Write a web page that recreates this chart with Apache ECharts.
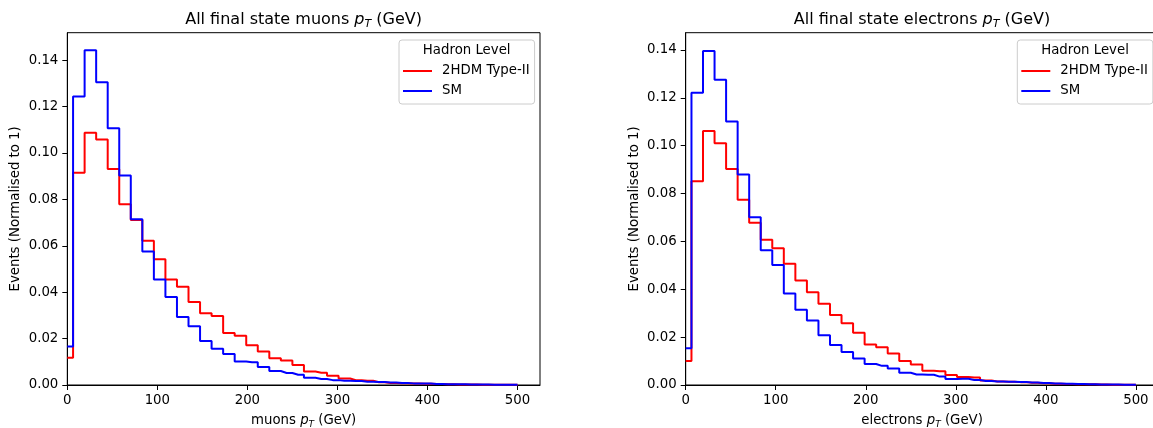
<!DOCTYPE html>
<html><head><meta charset="utf-8">
<script src="https://cdn.jsdelivr.net/npm/echarts@6/dist/echarts.min.js"></script>
<style>html,body{margin:0;padding:0;background:#fff}#c{width:1153px;height:428px}</style>
</head><body><div id="c"></div>
<script>
// Bin centres (GeV) – histogram drawn as mid-steps
const binCenters = [0, 12.82, 25.64, 38.46, 51.28, 64.10, 76.92, 89.74, 102.56, 115.38,
  128.21, 141.03, 153.85, 166.67, 179.49, 192.31, 205.13, 217.95, 230.77, 243.59,
  256.41, 269.23, 282.05, 294.87, 307.69, 320.51, 333.33, 346.15, 358.97, 371.79,
  384.62, 397.44, 410.26, 423.08, 435.90, 448.72, 461.54, 474.36, 487.18, 500];

const muons2HDM = [0.0117, 0.0915, 0.1087, 0.1058, 0.0931, 0.0779, 0.0711, 0.0622, 0.0542, 0.0455,
  0.0423, 0.0358, 0.0309, 0.0297, 0.0224, 0.0212, 0.0171, 0.0144, 0.0115, 0.0106,
  0.0086, 0.0058, 0.0053, 0.0040, 0.0028, 0.0021, 0.0018, 0.0012, 0.0009, 0.0008,
  0.0006, 0.0005, 0.0004, 0.0003, 0.0002, 0.0002, 0.0001, 0.0001, 0.0001, 0.0001];
const muonsSM = [0.0166, 0.1243, 0.1442, 0.1305, 0.1106, 0.0903, 0.0714, 0.0575, 0.0455, 0.0379,
  0.0293, 0.0253, 0.0190, 0.0156, 0.0134, 0.0101, 0.0098, 0.0078, 0.0060, 0.0052,
  0.0044, 0.0031, 0.0026, 0.0021, 0.0018, 0.0017, 0.0014, 0.0013, 0.0011, 0.0009,
  0.0007, 0.0006, 0.0004, 0.0003, 0.0003, 0.0002, 0.0002, 0.0001, 0.0001, 0.0001];
const electrons2HDM = [0.0100, 0.0851, 0.1061, 0.1010, 0.0903, 0.0774, 0.0678, 0.0607, 0.0571, 0.0507,
  0.0437, 0.0388, 0.0339, 0.0292, 0.0258, 0.0218, 0.0169, 0.0158, 0.0132, 0.0100,
  0.0086, 0.0060, 0.0057, 0.0042, 0.0033, 0.0031, 0.0019, 0.0015, 0.0014, 0.0012,
  0.0009, 0.0007, 0.0005, 0.0004, 0.0003, 0.0003, 0.0002, 0.0001, 0.0001, 0.0001];
const electronsSM = [0.0154, 0.1221, 0.1396, 0.1275, 0.1101, 0.0880, 0.0701, 0.0563, 0.0501, 0.0382,
  0.0314, 0.0269, 0.0208, 0.0167, 0.0138, 0.0111, 0.0088, 0.0080, 0.0069, 0.0051,
  0.0044, 0.0043, 0.0035, 0.0025, 0.0026, 0.0021, 0.0017, 0.0015, 0.0014, 0.0013,
  0.0010, 0.0008, 0.0006, 0.0005, 0.0004, 0.0003, 0.0002, 0.0002, 0.0001, 0.0001];

const xTicks = [0, 100, 200, 300, 400, 500];
const yTicks = [0, 0.02, 0.04, 0.06, 0.08, 0.10, 0.12, 0.14];
const seriesNames = ['2HDM Type-II', 'SM'];
const legendTitle = 'Hadron Level';
const yName = 'Events (Normalised to 1)';

const FONT = 'DejaVu Sans';
const FS = 13.3;
const richSub = (size) => ({
  p: { fontFamily: FONT, fontStyle: 'italic', fontSize: size, color: '#000' },
  s: { fontFamily: FONT, fontStyle: 'italic', fontSize: Math.round(size * 0.7), color: '#000', padding: [Math.round(size*0.5), 0, 0, 0] },
  n: { fontFamily: FONT, fontSize: size, color: '#000' }
});

function pair(xs, ys) { return xs.map((x, i) => [x, ys[i]]); }

const chart = echarts.init(document.getElementById('c'), null, { renderer: 'canvas' });

const grids = [
  { left: 67.3, top: 32.7, width: 472.7, height: 352.3, show: true, borderColor: '#000', borderWidth: 1,
    backgroundColor: 'transparent', outerBoundsMode: 'none', containLabel: false },
  { left: 685.7, top: 32.7, width: 472.7, height: 352.3, show: true, borderColor: '#000', borderWidth: 1,
    backgroundColor: 'transparent', outerBoundsMode: 'none', containLabel: false }
];

function xAxis(idx, label) {
  return {
    type: 'value', gridIndex: idx, min: 0, max: 525,
    axisLine: { show: true, lineStyle: { color: '#000', width: 1 } },
    axisTick: { show: true, length: 5, lineStyle: { color: '#000' }, customValues: xTicks },
    axisLabel: { fontFamily: FONT, fontSize: FS, color: '#000', margin: 9, customValues: xTicks },
    splitLine: { show: false },
    name: '{n|' + label + ' }{p|p}{s|T}{n| (GeV)}',
    nameLocation: 'middle', nameGap: 28,
    nameTextStyle: { rich: richSub(FS) }
  };
}
function yAxis(idx, max) {
  return {
    type: 'value', gridIndex: idx, min: 0, max: max,
    axisLine: { show: true, lineStyle: { color: '#000', width: 1 } },
    axisTick: { show: true, length: 5, lineStyle: { color: '#000' }, customValues: yTicks },
    axisLabel: { fontFamily: FONT, fontSize: FS, color: '#000', margin: 9, customValues: yTicks,
      formatter: v => v.toFixed(2) },
    splitLine: { show: false },
    name: yName, nameLocation: 'middle', nameGap: 45,
    nameTextStyle: { fontFamily: FONT, fontSize: FS, color: '#000' }
  };
}

function series(name, data, color, idx) {
  return {
    type: 'line', name: name, step: 'middle', xAxisIndex: idx, yAxisIndex: idx,
    data: pair(binCenters, data), showSymbol: false, symbol: 'none',
    lineStyle: { color: color, width: 2 }, itemStyle: { color: color },
    animation: false, clip: true
  };
}

function legend(left) {
  return {
    orient: 'vertical', left: left, top: 40, data: seriesNames,
    icon: 'rect', itemWidth: 29, itemHeight: 2, itemGap: 7,
    padding: [24.5, 5, 6.5, 4],
    backgroundColor: 'rgba(255,255,255,0.8)', borderColor: '#cccccc', borderWidth: 1, borderRadius: 3,
    textStyle: { fontFamily: FONT, fontSize: FS, color: '#000', padding: [0, 0, 0, 5] },
    selectedMode: false
  };
}

function titleText(cx, label) {
  return {
    type: 'text', x: cx, y: 20, z: 100,
    style: {
      text: '{n|All final state ' + label + ' }{p|p}{s|T}{n| (GeV)}',
      rich: richSub(16), align: 'center', verticalAlign: 'middle'
    }
  };
}
function legendTitleText(cx) {
  return {
    type: 'text', x: cx, y: 51, z: 100,
    style: { text: legendTitle, fontFamily: FONT, fontSize: FS, fill: '#000', align: 'center', verticalAlign: 'middle' }
  };
}

chart.setOption({
  animation: false,
  backgroundColor: '#fff',
  grid: grids,
  xAxis: [xAxis(0, 'muons'), xAxis(1, 'electrons')],
  yAxis: [yAxis(0, 0.1518), yAxis(1, 0.1472)],
  legend: [legend(399), legend(1017.3)],
  series: [
    series(seriesNames[0], muons2HDM, '#ff0000', 0),
    series(seriesNames[1], muonsSM, '#0000ff', 0),
    series(seriesNames[0], electrons2HDM, '#ff0000', 1),
    series(seriesNames[1], electronsSM, '#0000ff', 1)
  ],
  graphic: [
    titleText(303.6, 'muons'),
    titleText(922, 'electrons'),
    legendTitleText(466.7),
    legendTitleText(1085)
  ]
});
</script>
</body></html>
